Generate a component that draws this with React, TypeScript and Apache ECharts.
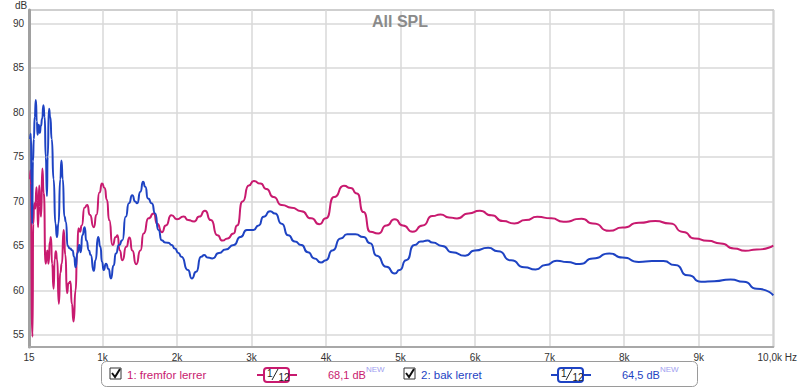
import React, { useEffect, useRef } from 'react';
import * as echarts from 'echarts';

const xTickValues = [15, 1000, 2000, 3000, 4000, 5000, 6000, 7000, 8000, 9000, 10000];
const xTickLabels = ['15', '1k', '2k', '3k', '4k', '5k', '6k', '7k', '8k', '9k', '10,0k Hz'];
const yTickValues = [55, 60, 65, 70, 75, 80, 85, 90];

const legendNames = ['1: fremfor lerrer', '2: bak lerret'];
const legendLevels = ['68,1 dB', '64,5 dB'];
const seriesColors = ['#c81a6f', '#1e43c3'];

// [Hz, dB]
const fremforData: number[][] = [
  [30, 72.5], [35, 73.5], [62, 54.8], [72, 67.5], [85, 69.8], [100, 69.2], [115, 71.6], [125, 70.0],
  [137, 67.1], [152, 71.8], [165, 69.5], [177, 68.3], [194, 73.7], [212, 71.0], [239, 63.0], [252, 64.0],
  [262, 64.5], [276, 63.0], [296, 65.5], [309, 66.0], [325, 63.0], [345, 60.2], [360, 63.5], [375, 64.4],
  [392, 63.5], [415, 58.5], [435, 62.0], [455, 63.0], [480, 66.8], [503, 64.0], [525, 59.7], [545, 60.8],
  [570, 61.0], [590, 58.5], [613, 56.5], [640, 60.0], [660, 64.0], [678, 67.0], [700, 66.6], [722, 67.3],
  [760, 69.3], [797, 69.6], [830, 68.5], [885, 67.1], [920, 68.5], [960, 71.0], [995, 72.0], [1030, 71.5],
  [1060, 70.2], [1091, 67.9], [1136, 65.1], [1180, 66.0], [1202, 66.2], [1232, 64.5], [1268, 63.4], [1320, 64.9],
  [1364, 65.95], [1400, 64.5], [1453, 62.95], [1510, 64.5], [1553, 66.4], [1619, 68.1], [1688, 68.65], [1734, 67.5],
  [1798, 66.55], [1850, 67.3], [1925, 68.45], [2000, 68.0], [2090, 68.3], [2150, 67.9], [2230, 67.75], [2300, 68.3],
  [2375, 68.95], [2455, 67.9], [2542, 66.2], [2610, 65.6], [2680, 65.85], [2760, 66.4], [2806, 67.3], [2880, 70.0],
  [2964, 71.8], [3030, 72.3], [3120, 72.0], [3200, 71.4], [3294, 70.5], [3405, 69.6], [3537, 69.3], [3669, 68.9],
  [3801, 68.1], [3911, 67.45], [3999, 68.1], [4107, 70.5], [4240, 71.75], [4330, 71.5], [4415, 70.9], [4503, 68.8],
  [4592, 66.6], [4701, 66.4], [4810, 67.3], [4922, 68.0], [5031, 67.3], [5163, 66.6], [5296, 67.3], [5427, 68.35],
  [5536, 68.54], [5650, 68.2], [5757, 68.09], [5910, 68.65], [6064, 68.94], [6218, 68.45], [6372, 67.8], [6526, 67.53],
  [6680, 67.9], [6834, 68.27], [7021, 68.1], [7185, 67.71], [7428, 68.05], [7581, 67.53], [7801, 66.7], [7977, 67.07],
  [8197, 67.6], [8417, 67.79], [8615, 67.53], [8791, 66.58], [8945, 65.84], [9120, 65.57], [9296, 65.28], [9472, 64.72],
  [9625, 64.45], [9779, 64.6], [10000, 65.05],
];

const bakData: number[][] = [
  [30, 77.0], [40, 77.6], [50, 72.0], [57, 67.5], [68, 74.5], [80, 77.0], [92, 79.5], [107, 81.4],
  [120, 79.0], [130, 77.5], [145, 78.6], [160, 77.7], [175, 78.5], [192, 79.3], [208, 80.8], [225, 79.5],
  [240, 75.0], [256, 70.6], [265, 75.0], [283, 80.4], [300, 79.5], [320, 77.0], [345, 72.5], [370, 67.5],
  [390, 66.0], [410, 67.5], [435, 72.5], [450, 74.6], [468, 72.5], [490, 68.3], [511, 67.7], [533, 65.0],
  [564, 64.7], [599, 64.5], [620, 63.8], [640, 62.6], [665, 64.2], [688, 65.1], [709, 64.3], [731, 66.2],
  [762, 67.1], [784, 65.6], [820, 64.5], [841, 64.0], [885, 62.2], [907, 63.4], [942, 66.0], [973, 64.9],
  [995, 63.2], [1017, 62.3], [1048, 63.0], [1083, 62.4], [1114, 61.35], [1150, 62.8], [1180, 64.15], [1223, 65.1],
  [1268, 65.65], [1312, 68.27], [1356, 69.8], [1400, 70.7], [1440, 70.0], [1466, 69.8], [1510, 71.1], [1545, 72.2],
  [1575, 71.65], [1611, 70.34], [1664, 69.78], [1707, 68.65], [1751, 66.8], [1796, 65.65], [1840, 65.4], [1883, 65.35],
  [1930, 65.1], [1971, 64.7], [2020, 64.2], [2059, 63.8], [2147, 62.3], [2199, 61.35], [2257, 62.1], [2323, 63.8],
  [2367, 63.97], [2410, 63.7], [2476, 63.6], [2564, 64.2], [2653, 64.6], [2762, 65.1], [2851, 66.0], [2938, 66.8],
  [3026, 66.8], [3096, 67.3], [3162, 68.27], [3250, 68.9], [3316, 68.65], [3405, 67.5], [3492, 66.2], [3580, 65.5],
  [3669, 65.1], [3756, 64.3], [3844, 63.6], [3932, 63.14], [3999, 63.4], [4085, 64.5], [4196, 65.84], [4284, 66.3],
  [4394, 66.3], [4503, 66.0], [4592, 65.3], [4679, 63.9], [4810, 62.65], [4922, 61.9], [4987, 62.3], [5075, 63.4],
  [5185, 65.1], [5273, 65.5], [5361, 65.6], [5427, 65.4], [5559, 65.0], [5691, 64.3], [5866, 63.9], [5998, 64.5],
  [6175, 64.8], [6306, 64.4], [6482, 63.4], [6658, 62.6], [6812, 62.36], [6944, 62.85], [7098, 63.33], [7230, 63.2],
  [7405, 62.96], [7581, 63.6], [7801, 64.15], [7977, 63.7], [8197, 63.2], [8373, 63.3], [8527, 63.3], [8681, 62.85],
  [8857, 61.7], [9032, 60.97], [9208, 61.04], [9427, 61.24], [9604, 60.97], [9779, 60.2], [10000, 59.45],
];

const FONT = 'Liberation Sans, Arial, sans-serif';

function legendItem(i: number, dx: number): any[] {
  const c = seriesColors[i];
  return [
    { type: 'rect', shape: { x: 110 + dx, y: 368, width: 11, height: 11 }, style: { fill: '#fff', stroke: '#333', lineWidth: 1 } },
    { type: 'polyline', shape: { points: [[112 + dx, 373], [115 + dx, 377], [120 + dx, 369]] }, style: { stroke: '#111', lineWidth: 2, fill: null } },
    { type: 'text', x: 127 + dx, y: 374.5, style: { text: legendNames[i], fill: c, font: `11.5px ${FONT}`, verticalAlign: 'middle' } },
    { type: 'line', shape: { x1: 257 + dx, y1: 375, x2: 264 + dx, y2: 375 }, style: { stroke: c, lineWidth: 2 } },
    { type: 'line', shape: { x1: 289 + dx, y1: 375, x2: 297 + dx, y2: 375 }, style: { stroke: c, lineWidth: 2 } },
    { type: 'rect', shape: { x: 264 + dx, y: 368, width: 25, height: 14, r: 3 }, style: { fill: '#fff', stroke: c, lineWidth: 2 } },
    { type: 'text', x: 267 + dx, y: 373.5, style: { text: '1', fill: '#222', font: `10px ${FONT}`, verticalAlign: 'middle' } },
    { type: 'line', shape: { x1: 272 + dx, y1: 380, x2: 278 + dx, y2: 369 }, style: { stroke: '#222', lineWidth: 1 } },
    { type: 'text', x: 278.5 + dx, y: 377, style: { text: '12', fill: '#222', font: `10px ${FONT}`, verticalAlign: 'middle' } },
    { type: 'text', x: 328 + dx, y: 374.5, style: { text: legendLevels[i], fill: c, font: `11px ${FONT}`, verticalAlign: 'middle' } },
    { type: 'text', x: 366 + dx, y: 369, style: { text: 'NEW', fill: '#a0a0f0', font: `8px ${FONT}`, verticalAlign: 'middle' } },
  ];
}

export default function App() {
  const ref = useRef<HTMLDivElement>(null);
  useEffect(() => {
    if (!ref.current) return;
    const chart = echarts.init(ref.current, null, { renderer: 'svg' });
    chart.setOption({
      animation: false,
      backgroundColor: '#fff',
      title: {
        text: 'All SPL', left: 'center', top: 8,
        textStyle: { color: '#8a8a8a', fontSize: 16, fontWeight: 'bold', fontFamily: FONT },
      },
      grid: { left: 29, right: 13, top: 10, bottom: 42, show: true, borderColor: '#c0c0c0', borderWidth: 1.5 },
      xAxis: {
        type: 'value', min: 15, max: 10000,
        axisLine: { show: true, lineStyle: { color: '#a8a8a8', width: 2 } },
        axisTick: { show: false, customValues: xTickValues },
        axisLabel: {
          customValues: xTickValues, fontSize: 10, color: '#333', fontFamily: FONT, margin: 5,
          formatter: (v: number) => {
            const idx = xTickValues.indexOf(v);
            const s = idx >= 0 ? xTickLabels[idx] : '';
            return idx === xTickValues.length - 1 ? `{last|${s}}` : s;
          },
          rich: { last: { fontSize: 10, color: '#333', fontFamily: FONT, padding: [0, 0, 0, 8] } },
        },
        splitLine: { show: true, lineStyle: { color: '#d9d9d9', width: 1.5 } },
      },
      yAxis: {
        type: 'value', min: 53.65, max: 91.5,
        axisLine: { show: true, lineStyle: { color: '#a0a0a0', width: 3 } },
        axisTick: { show: false, customValues: yTickValues },
        axisLabel: { customValues: yTickValues, fontSize: 10, color: '#333', fontFamily: FONT, margin: 5 },
        splitLine: { show: true, lineStyle: { color: '#d9d9d9', width: 1.5 } },
      },
      series: [
        {
          type: 'line', name: legendNames[0], data: fremforData, showSymbol: false, smooth: 0.7, smoothMonotone: 'x',
          lineStyle: { color: seriesColors[0], width: 2 }, itemStyle: { color: seriesColors[0] },
        },
        {
          type: 'line', name: legendNames[1], data: bakData, showSymbol: false, smooth: 0.7, smoothMonotone: 'x',
          lineStyle: { color: seriesColors[1], width: 2 }, itemStyle: { color: seriesColors[1] },
        },
      ],
      graphic: [
        { type: 'text', x: 15, y: 0, style: { text: 'dB', fill: '#333', font: `10px ${FONT}` } },
        { type: 'rect', shape: { x: 101.5, y: 361.5, width: 596, height: 25, r: 5 }, style: { fill: '#fff', stroke: '#9a9a9a', lineWidth: 1 } },
        ...legendItem(0, 0),
        ...legendItem(1, 294),
      ],
    });
    return () => chart.dispose();
  }, []);
  return <div ref={ref} style={{ width: 800, height: 389, position: 'absolute', left: 0, top: 0 }} />;
}
